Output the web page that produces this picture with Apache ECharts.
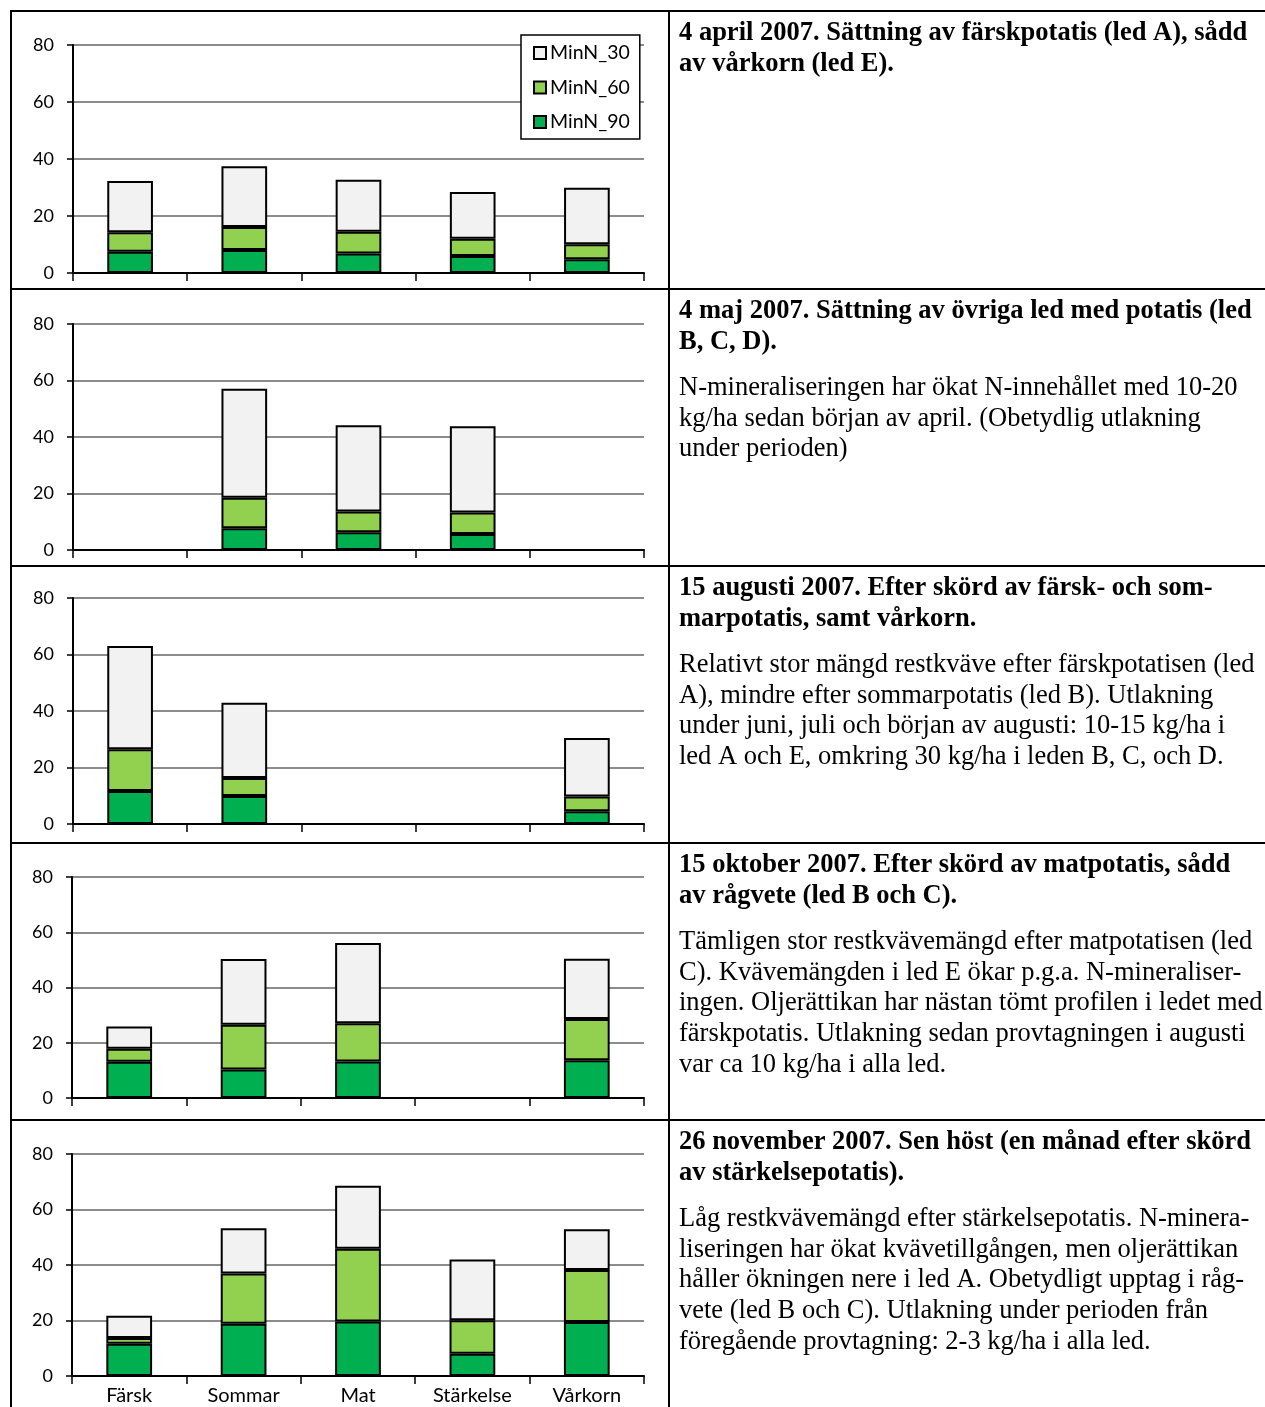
<!DOCTYPE html>
<html>
<head>
<meta charset="utf-8">
<title>Mineralkväve i profilen 2007</title>
<script src="https://cdn.jsdelivr.net/npm/echarts@6/dist/echarts.min.js"></script>
<style>
  html, body { margin: 0; padding: 0; background: #fff; }
  #chart { width: 1265px; height: 1407px; }
</style>
</head>
<body>
<div id="chart"></div>
<script>
// Odlingsled (x-axel)
const categories = ['Färsk', 'Sommar', 'Mat', 'Stärkelse', 'Vårkorn'];
const yTicks = { min: 0, max: 80, step: 20 };

// Mineralkväve per skikt (kg N/ha), staplade från botten: MinN_90, MinN_60, MinN_30
const apr_min90 = [7.5, 8.1, 6.8, 6.0, 4.8];
const apr_min60 = [6.8, 8.0, 7.7, 6.0, 5.3];
const apr_min30 = [18.0, 21.4, 18.2, 16.4, 19.8];

const maj_min90 = [null, 7.7, 6.3, 5.7, null];
const maj_min60 = [null, 10.8, 7.3, 7.6, null];
const maj_min30 = [null, 38.6, 30.6, 30.5, null];

const aug_min90 = [11.7, 9.9, null, null, 4.5];
const aug_min60 = [14.8, 6.4, null, null, 5.2];
const aug_min30 = [36.5, 26.6, null, null, 20.7];

const okt_min90 = [13.1, 10.3, 13.2, null, 13.7];
const okt_min60 = [4.7, 16.2, 13.9, null, 14.9];
const okt_min30 = [8.1, 23.8, 29.0, null, 21.8];

const nov_min90 = [11.6, 18.8, 19.6, 8.0, 19.5];
const nov_min60 = [2.1, 18.1, 26.3, 12.1, 18.7];
const nov_min30 = [8.0, 16.3, 22.7, 21.9, 14.7];

const seriesNames = ['MinN_30', 'MinN_60', 'MinN_90'];
const seriesColors = { MinN_30: '#F2F2F2', MinN_60: '#92D050', MinN_90: '#00B050' };

// Kommentarer till varje provtagning
const headings = [
  '4 april 2007. Sättning av färskpotatis (led A), sådd\nav vårkorn (led E).',
  '4 maj 2007. Sättning av övriga led med potatis (led\nB, C, D).',
  '15 augusti 2007. Efter skörd av färsk- och som-\nmarpotatis, samt vårkorn.',
  '15 oktober 2007. Efter skörd av matpotatis, sådd\nav rågvete (led B och C).',
  '26 november 2007. Sen höst (en månad efter skörd\nav stärkelsepotatis).'
];
const bodies = [
  '',
  'N-mineraliseringen har ökat N-innehållet med 10-20\nkg/ha sedan början av april. (Obetydlig utlakning\nunder perioden)',
  'Relativt stor mängd restkväve efter färskpotatisen (led\nA), mindre efter sommarpotatis (led B). Utlakning\nunder juni, juli och början av augusti: 10-15 kg/ha i\nled A och E, omkring 30 kg/ha i leden B, C, och D.',
  'Tämligen stor restkvävemängd efter matpotatisen (led\nC). Kvävemängden i led E ökar p.g.a. N-mineraliser-\ningen. Oljerättikan har nästan tömt profilen i ledet med\nfärskpotatis. Utlakning sedan provtagningen i augusti\nvar ca 10 kg/ha i alla led.',
  'Låg restkvävemängd efter stärkelsepotatis. N-minera-\nliseringen har ökat kvävetillgången, men oljerättikan\nhåller ökningen nere i led A. Obetydligt upptag i råg-\nvete (led B och C). Utlakning under perioden från\nföregående provtagning: 2-3 kg/ha i alla led.'
];

const panels = [
  { min90: apr_min90, min60: apr_min60, min30: apr_min30 },
  { min90: maj_min90, min60: maj_min60, min30: maj_min30 },
  { min90: aug_min90, min60: aug_min60, min30: aug_min30 },
  { min90: okt_min90, min60: okt_min60, min30: okt_min30 },
  { min90: nov_min90, min60: nov_min60, min30: nov_min30 }
];

// Layout of the table rows and the plot areas inside them
const rowTops = [11, 289, 566, 843, 1120];
const gridBoxes = [
  { left: 73, top: 45, height: 228 },
  { left: 73, top: 324, height: 226 },
  { left: 73, top: 598, height: 226 },
  { left: 72, top: 877, height: 221 },
  { left: 72, top: 1154, height: 222 }
];
const plotRight = 644;
const textX = 679;
const lineH = 30.6;

const labelFont = 'Lato';
const serifFont = 'Liberation Serif';

const grid = [], xAxis = [], yAxis = [], series = [];
gridBoxes.forEach((g, i) => {
  grid.push({ left: g.left, top: g.top, width: plotRight - g.left, height: g.height });
  xAxis.push({
    type: 'category', gridIndex: i, data: categories,
    axisLine: { lineStyle: { color: '#000', width: 2 } },
    axisTick: { show: true, length: 8, lineStyle: { color: '#000', width: 1.5 } },
    axisLabel: { show: i === 4, color: '#000', fontFamily: labelFont, fontSize: 20, margin: 10 }
  });
  yAxis.push({
    type: 'value', gridIndex: i, min: yTicks.min, max: yTicks.max, interval: yTicks.step,
    axisLine: { show: true, lineStyle: { color: '#000', width: 2 } },
    axisTick: { show: true, length: 6, lineStyle: { color: '#000', width: 1.5 } },
    axisLabel: { color: '#000', fontFamily: labelFont, fontSize: 18, margin: 19 },
    splitLine: { lineStyle: { color: '#8C8C8C', width: 2 } }
  });
  const p = panels[i];
  [['MinN_90', p.min90], ['MinN_60', p.min60], ['MinN_30', p.min30]].forEach(([name, vals]) => {
    series.push({
      name, type: 'bar', stack: 'profil' + i, xAxisIndex: i, yAxisIndex: i,
      data: vals, barWidth: '40%',
      itemStyle: { color: seriesColors[name], borderColor: '#000', borderWidth: 2 },
      emphasis: { disabled: true }
    });
  });
});

// Table rules and the commentary column
const graphic = [];
const rule = (x1, y1, x2, y2) => ({
  type: 'line', silent: true, z: 100,
  shape: { x1, y1, x2, y2 }, style: { stroke: '#000', lineWidth: 2 }
});
graphic.push(rule(10, 11, 1265, 11));
graphic.push(rule(11, 10, 11, 1407));
graphic.push(rule(669, 10, 669, 1407));
rowTops.slice(1).forEach(y => graphic.push(rule(10, y, 1265, y)));

const textStyle = (text, weight) => ({
  text, fill: '#000', lineHeight: lineH,
  fontFamily: serifFont, fontSize: 26.5, fontWeight: weight
});
rowTops.forEach((top, i) => {
  const headY = top + 22.5 - lineH / 2;
  graphic.push({
    type: 'text', silent: true, z: 100, x: textX, y: headY,
    style: textStyle(headings[i], 'bold')
  });
  if (bodies[i]) {
    graphic.push({
      type: 'text', silent: true, z: 100, x: textX, y: headY + 2 * lineH + 15.5,
      style: textStyle(bodies[i], 'normal')
    });
  }
});

const chart = echarts.init(document.getElementById('chart'));
chart.setOption({
  animation: false,
  backgroundColor: '#fff',
  grid, xAxis, yAxis, series, graphic,
  legend: {
    data: seriesNames, orient: 'vertical', left: 521, top: 35,
    backgroundColor: '#fff', borderColor: '#000', borderWidth: 1.5,
    padding: [8, 10, 7, 12], itemGap: 14.5, itemWidth: 12, itemHeight: 12,
    icon: 'rect', selectedMode: false,
    textStyle: { color: '#000', fontFamily: labelFont, fontSize: 19.5, padding: [0, 0, 0, -1] }
  }
});
</script>
</body>
</html>
